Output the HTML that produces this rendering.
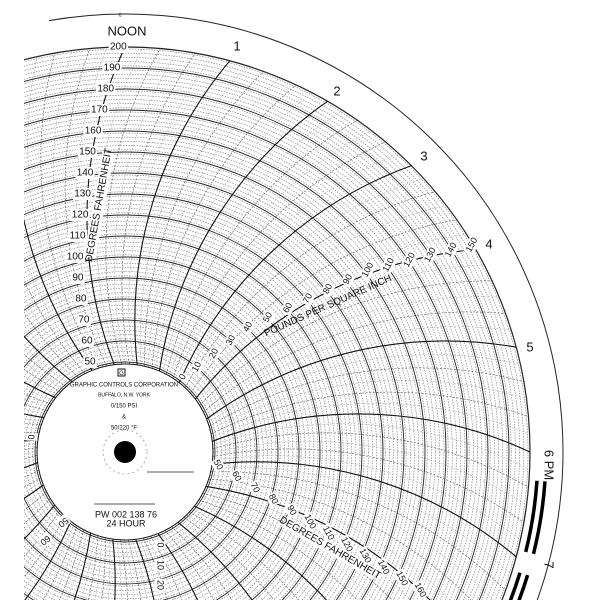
<!DOCTYPE html>
<html><head><meta charset="utf-8"><style>
html,body{margin:0;padding:0;background:#fff;width:600px;height:600px;overflow:hidden}
svg{display:block;overflow:hidden}
text{font-family:"Liberation Sans",sans-serif;fill:#111}
</style></head><body>
<svg id="s" width="600" height="600" viewBox="0 0 600 600" xmlns="http://www.w3.org/2000/svg"></svg>
<script>
const S=document.getElementById('s');const NS='http://www.w3.org/2000/svg';
const cx=125,cy=452,R0=88,R1=405;
function el(t,a,txt){const e=document.createElementNS(NS,t);for(const k in a)e.setAttribute(k,a[k]);if(txt!==undefined)e.textContent=txt;S.appendChild(e);return e;}
function pol(r,deg){const a=deg*Math.PI/180;return [cx+r*Math.cos(a),cy-r*Math.sin(a)];}
let g='';
for(let r=R0;r<=R1+0.1;r+=21/5){g+=`<circle cx="${cx}" cy="${cy}" r="${r.toFixed(2)}" fill="none" stroke="#777" stroke-width="0.6" stroke-dasharray="1.5 1.2"/>`;}
function hourPath(th){const p1=pol(R0,th+7),p2=pol(R1,th);return `M${p1[0].toFixed(1)},${p1[1].toFixed(1)} A405,405 0 0 1 ${p2[0].toFixed(1)},${p2[1].toFixed(1)}`;}
for(let th=0;th<360;th+=2.5){if(th%15==0)continue;const major=th%5==0;g+=`<path d="${hourPath(th)}" fill="none" stroke="${major?'#666':'#999'}" stroke-width="${major?0.7:0.5}" stroke-dasharray="2 1.5"/>`;}
for(let k=0;k<=15;k++){const r=R0+2+21*k;g+=`<circle cx="${cx}" cy="${cy}" r="${r}" fill="none" stroke="#222" stroke-width="${k==15?1.2:0.9}"/>`;}
for(let th=0;th<360;th+=15){g+=`<path d="${hourPath(th)}" fill="none" stroke="#111" stroke-width="1.1"/>`;}
{const a=pol(438,100),b=pol(438,-22);g+=`<path d="M${a[0]},${a[1]} A438,438 0 0 1 ${b[0]},${b[1]}" fill="none" stroke="#222" stroke-width="1"/>`;}
function bar(r,a1,a2,w){const a=pol(r,a1),b=pol(r,a2);return `<path d="M${a[0]},${a[1]} A${r},${r} 0 0 1 ${b[0]},${b[1]}" fill="none" stroke="#000" stroke-width="${w}"/>`;}
g+=bar(413,-4,-14,3.5)+bar(421,-4,-14,3.5)+bar(413,-17,-24,3.5)+bar(421,-17,-24,3.5);
g+=`<circle cx="${cx}" cy="${cy}" r="${R0}" fill="#fff" stroke="#111" stroke-width="1"/>`;
g+=`<circle cx="${cx}" cy="${cy}" r="22" fill="none" stroke="#999" stroke-width="0.8" stroke-dasharray="2 3"/>`;
g+=`<circle cx="${cx}" cy="${cy}" r="11" fill="#000"/>`;
g+=`<line x1="147" y1="472" x2="194" y2="472" stroke="#222" stroke-width="0.8"/>`;
g+=`<line x1="94" y1="504" x2="155" y2="504" stroke="#222" stroke-width="0.8"/>`;
g+=`<rect x="118" y="369" width="7" height="7" fill="none" stroke="#111"/><text x="121.5" y="375" font-size="6" text-anchor="middle">G</text>`;
S.innerHTML=g;
function t(x,y,s,fs,rot,anchor,bg){const a={x:x,y:y,'font-size':fs,'text-anchor':anchor||'middle','dominant-baseline':'middle'};if(rot)a.transform=`rotate(${rot} ${x} ${y})`;if(bg){const w=s.length*fs*0.58+2;const r=el('rect',{x:x-w/2,y:y-fs/2-1,width:w,height:fs+2,fill:'#fff'});if(rot)r.setAttribute('transform',`rotate(${rot} ${x} ${y})`);}return el('text',a,s);}
function interp(tab,v){for(let i=0;i<tab.length-1;i++){if(v<=tab[i+1][0]){const f=(v-tab[i][0])/(tab[i+1][0]-tab[i][0]);return [tab[i][1]+f*(tab[i+1][1]-tab[i][1]),tab[i][2]+f*(tab[i+1][2]-tab[i][2])];}}return [tab[tab.length-1][1],tab[tab.length-1][2]];}
el('rect',{x:0,y:0,width:24,height:600,fill:'#fff'});
t(124,385,'GRAPHIC CONTROLS CORPORATION',6);
t(124,395,'BUFFALO, N.W. YORK',5);
t(124,406,'0/150 PSI',6);
t(124,417,'&',6);
t(124,428,'50/220 °F',6);
t(126,515,'PW 002 138 76',9);
t(126,524,'24 HOUR',9);
const tx=[[48,118],[148,88],[258,75],[362,90]];
function xAt(y){for(let i=0;i<tx.length-1;i++){if(y<=tx[i+1][0]){const f=(y-tx[i][0])/(tx[i+1][0]-tx[i][0]);return tx[i][1]+f*(tx[i+1][1]-tx[i][1]);}}return 90;}
for(let k=0;k<=15;k++){const v=50+10*k;const y=362-21*k;t(xAt(y),y,String(v),10,0,'middle',true);}
t(99,205,'DEGREES FAHRENHEIT',10,-80,'middle',true);
const pt=[[0,183,377],[10,197,367],[40,248,327],[100,368,270],[150,472,245]];
for(let k=0;k<=15;k++){const p=interp(pt,10*k);t(p[0],p[1],String(10*k),9,-62,'middle',true);}
t(328,306,'POUNDS PER SQUARE INCH',10,-24,'middle',false);
for(let k=0;k<=11;k++){const x=218+(420-218)*k/11,y=465+(590-465)*k/11;t(x,y,String(50+10*k),9,62,'middle',true);}
t(330,548,'DEGREES FAHRENHEIT',10,30,'middle',true);
t(32,437,'0',9,-90,'middle',true);t(63,522,'50',9,140,'middle',true);t(45,540,'60',9,140,'middle',true);
t(160,545,'0',9,90,'middle',true);t(160,565,'10',9,90,'middle',true);t(160,585,'20',9,90,'middle',true);
t(127,32,'NOON',13);t(237,47,'1',13);t(337,92,'2',13);t(424,157,'3',13);t(489,245,'4',13);t(530,348,'5',13);
t(548,465,'6 PM',13,90);t(548,565,'7',13,90);t(120,15,'c',6);
</script>
</body></html>
